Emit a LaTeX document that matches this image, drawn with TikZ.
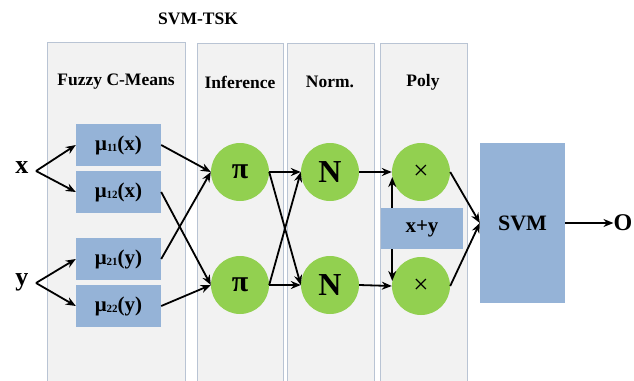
\documentclass[tikz,border=0pt]{standalone}
\usepackage{fontspec}
\setmainfont{Liberation Serif}
\usetikzlibrary{arrows.meta}
\definecolor{panelfill}{HTML}{F2F2F2}
\definecolor{paneledge}{HTML}{B9C4D4}
\definecolor{boxblue}{HTML}{95B3D7}
\definecolor{nodegreen}{HTML}{92D050}
\newcommand\musub[1]{\raisebox{-1pt}{\fontsize{11}{11}\selectfont #1}}
\tikzset{
  panel/.style={draw=paneledge, line width=0.9pt, fill=panelfill},
  heading/.style={font=\fontsize{17.5}{17.5}\selectfont\bfseries},
  mubox/.style={fill=boxblue, minimum width=85pt, minimum height=42pt, inner sep=0pt,
                font=\fontsize{21}{21}\selectfont\bfseries},
  unit/.style={circle, fill=nodegreen, minimum size=58pt, inner sep=0pt},
  varlabel/.style={font=\fontsize{26}{26}\selectfont\bfseries, inner sep=0pt},
  arr/.style={line width=1.8pt, -{Stealth[length=10pt,width=8pt]}},
}
\begin{document}
\begin{tikzpicture}[x=1pt, y=-1pt]
\useasboundingbox (0,0) rectangle (634,380);

% layer panels
\path[panel] (47,42) rectangle (185,390);
\path[panel] (197,43) rectangle (283,390);
\path[panel] (287,43) rectangle (374,390);
\path[panel] (380,43) rectangle (467,390);

% titles
\node[heading] (title) at (198,19) {SVM-TSK};
\node[heading] (hfcm) at (116,82) {Fuzzy C-Means};
\node[heading] (hinf) at (240,82) {Inference};
\node[heading] (hnorm) at (330,82) {Norm.};
\node[heading] (hpoly) at (423,82) {Poly};

% inputs
\node[varlabel] (x) at (22,168) {x};
\node[varlabel] (y) at (22,282) {y};

% membership functions
\node[mubox] (m11) at (118.5,145) {μ\musub{11}(x)};
\node[mubox] (m12) at (118.5,192) {μ\musub{12}(x)};
\node[mubox] (m21) at (118.5,259) {μ\musub{21}(y)};
\node[mubox] (m22) at (118.5,306) {μ\musub{22}(y)};

% rule, normalisation and product units
\node[unit, font=\fontsize{30}{30}\selectfont\bfseries] (p1) at (240,172) {π};
\node[unit, font=\fontsize{30}{30}\selectfont\bfseries] (p2) at (240,285) {π};
\node[unit, font=\fontsize{32}{32}\selectfont\bfseries] (n1) at (330,172) {N};
\node[unit, font=\fontsize{32}{32}\selectfont\bfseries] (n2) at (330,285) {N};
\node[unit, font=\fontsize{27}{27}\selectfont] (t1) at (421,172) {×};
\node[unit, font=\fontsize{27}{27}\selectfont] (t2) at (421,286) {×};

\node[fill=boxblue, minimum width=82pt, minimum height=41pt, inner sep=0pt,
      font=\fontsize{21}{21}\selectfont\bfseries] (xy) at (422,228.5) {x+y};
\node[fill=boxblue, minimum width=85pt, minimum height=160pt, inner sep=0pt,
      font=\fontsize{22}{22}\selectfont\bfseries] (svm) at (522.5,223) {SVM};
\node[font=\fontsize{24}{24}\selectfont\bfseries, inner sep=0pt] (o) at (623,223) {O};

% connectors
\coordinate (xs) at (36,171);
\coordinate (ys) at (36,283);
\draw[arr] (xs) -- (m11.west);
\draw[arr] (xs) -- (m12.west);
\draw[arr] (ys) -- (m21.west);
\draw[arr] (ys) -- (m22.west);

\draw[arr] (m11.east) -- (p1.west);
\draw[arr] (m21.east) -- (p1.west);
\draw[arr] (m12.east) -- (p2.west);
\draw[arr] (m22.east) -- (p2.west);

\draw[arr] (p1.east) -- (n1.west);
\draw[arr] (p1.east) -- (n2.west);
\draw[arr] (p2.east) -- (n1.west);
\draw[arr] (p2.east) -- (n2.west);

\draw[arr] (n1.east) -- (t1.west);
\draw[arr] (n2.east) -- (t2.west);
\draw[arr] (t1.190 |- xy.north) -- (t1.190);
\draw[arr] (t2.170 |- xy.south) -- (t2.170);

\draw[arr] (t1.east) -- (svm.west);
\draw[arr] (t2.east) -- (svm.west);
\draw[arr] (svm.east) -- (o.west);
\end{tikzpicture}
\end{document}
